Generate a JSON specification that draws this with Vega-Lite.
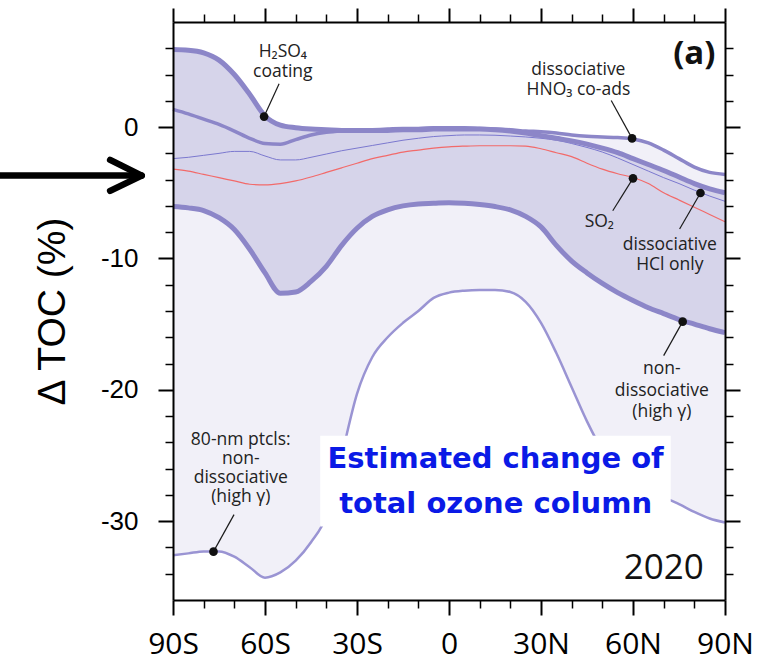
{
  "$schema": "https://vega.github.io/schema/vega-lite/v6.json",
  "width": 552,
  "height": 578,
  "autosize": "none",
  "padding": {"left": 173, "top": 22, "right": 41, "bottom": 62},
  "background": "white",
  "config": {"view": {"stroke": null}, "axis": {"grid": false}},
  "datasets": {
    "curves": [
      {"lat": -90, "U": 5.9, "A": 5.9, "G": 1.35, "C": -2.4, "D": -3.2, "E": -6.05, "F": -32.6},
      {"lat": -85, "U": 5.85, "A": 5.85, "G": 1.0, "C": -2.3, "D": -3.35, "E": -6.15, "F": -32.45},
      {"lat": -80, "U": 5.65, "A": 5.65, "G": 0.6, "C": -2.15, "D": -3.6, "E": -6.35, "F": -32.3},
      {"lat": -75, "U": 5.1, "A": 5.1, "G": 0.2, "C": -2.0, "D": -3.85, "E": -6.9, "F": -32.3},
      {"lat": -70, "U": 4.0, "A": 4.0, "G": -0.3, "C": -1.85, "D": -4.1, "E": -7.8, "F": -32.7},
      {"lat": -65, "U": 2.5, "A": 2.5, "G": -0.85, "C": -1.85, "D": -4.35, "E": -9.3, "F": -33.5},
      {"lat": -60, "U": 0.85, "A": 0.85, "G": -1.25, "C": -2.2, "D": -4.4, "E": -11.1, "F": -34.3},
      {"lat": -55, "U": 0.15, "A": 0.15, "G": -1.3, "C": -2.5, "D": -4.3, "E": -12.65, "F": -33.9},
      {"lat": -50, "U": -0.05, "A": -0.05, "G": -0.95, "C": -2.5, "D": -4.1, "E": -12.55, "F": -33.0},
      {"lat": -45, "U": -0.15, "A": -0.15, "G": -0.6, "C": -2.3, "D": -3.8, "E": -11.75, "F": -31.6},
      {"lat": -40, "U": -0.2, "A": -0.2, "G": -0.4, "C": -2.05, "D": -3.45, "E": -10.6, "F": -29.6},
      {"lat": -35, "U": -0.25, "A": -0.25, "G": -0.3, "C": -1.8, "D": -3.1, "E": -9.0, "F": -25.0},
      {"lat": -30, "U": -0.25, "A": -0.25, "G": -0.25, "C": -1.6, "D": -2.75, "E": -7.7, "F": -20.3},
      {"lat": -25, "U": -0.2, "A": -0.25, "G": -0.2, "C": -1.4, "D": -2.4, "E": -6.8, "F": -17.5},
      {"lat": -20, "U": -0.15, "A": -0.25, "G": -0.15, "C": -1.2, "D": -2.15, "E": -6.3, "F": -16.0},
      {"lat": -15, "U": -0.1, "A": -0.2, "G": -0.1, "C": -1.0, "D": -1.9, "E": -6.0, "F": -14.9},
      {"lat": -10, "U": -0.1, "A": -0.2, "G": -0.1, "C": -0.85, "D": -1.75, "E": -5.85, "F": -14.0},
      {"lat": -5, "U": -0.05, "A": -0.15, "G": -0.05, "C": -0.72, "D": -1.6, "E": -5.8, "F": -13.0},
      {"lat": 0, "U": -0.05, "A": -0.15, "G": -0.05, "C": -0.65, "D": -1.5, "E": -5.75, "F": -12.6},
      {"lat": 5, "U": -0.05, "A": -0.15, "G": -0.05, "C": -0.6, "D": -1.45, "E": -5.8, "F": -12.45},
      {"lat": 10, "U": -0.1, "A": -0.15, "G": -0.1, "C": -0.6, "D": -1.42, "E": -5.9, "F": -12.4},
      {"lat": 15, "U": -0.15, "A": -0.2, "G": -0.15, "C": -0.62, "D": -1.42, "E": -6.05, "F": -12.4},
      {"lat": 20, "U": -0.2, "A": -0.3, "G": -0.2, "C": -0.68, "D": -1.42, "E": -6.3, "F": -12.55},
      {"lat": 25, "U": -0.3, "A": -0.45, "G": -0.3, "C": -0.75, "D": -1.45, "E": -6.8, "F": -13.3},
      {"lat": 30, "U": -0.35, "A": -0.65, "G": -0.35, "C": -0.85, "D": -1.65, "E": -7.6, "F": -14.9},
      {"lat": 35, "U": -0.45, "A": -0.85, "G": -0.45, "C": -1.0, "D": -1.95, "E": -9.0, "F": -17.2},
      {"lat": 40, "U": -0.6, "A": -1.05, "G": -0.6, "C": -1.25, "D": -2.25, "E": -10.2, "F": -19.8},
      {"lat": 45, "U": -0.7, "A": -1.3, "G": -0.7, "C": -1.55, "D": -2.75, "E": -11.1, "F": -22.4},
      {"lat": 50, "U": -0.75, "A": -1.6, "G": -0.75, "C": -1.9, "D": -3.2, "E": -11.9, "F": -24.6},
      {"lat": 55, "U": -0.8, "A": -1.95, "G": -0.8, "C": -2.35, "D": -3.55, "E": -12.6, "F": -26.0},
      {"lat": 60, "U": -0.9, "A": -2.4, "G": -0.9, "C": -2.85, "D": -3.84, "E": -13.2, "F": -27.0},
      {"lat": 65, "U": -1.2, "A": -2.85, "G": -1.2, "C": -3.35, "D": -4.3, "E": -13.75, "F": -27.7},
      {"lat": 70, "U": -1.75, "A": -3.3, "G": -1.75, "C": -3.85, "D": -5.0, "E": -14.2, "F": -28.2},
      {"lat": 75, "U": -2.4, "A": -3.8, "G": -2.4, "C": -4.3, "D": -5.55, "E": -14.65, "F": -28.7},
      {"lat": 80, "U": -3.05, "A": -4.3, "G": -3.05, "C": -4.8, "D": -6.1, "E": -15.0, "F": -29.3},
      {"lat": 85, "U": -3.45, "A": -4.7, "G": -3.45, "C": -5.25, "D": -6.65, "E": -15.35, "F": -29.8},
      {"lat": 90, "U": -3.6, "A": -5.0, "G": -3.6, "C": -5.65, "D": -7.2, "E": -15.65, "F": -30.1}
    ],
    "leaders": [
      {"lat": -60.3, "v": 0.8, "lat2": -55.4, "v2": 3.3},
      {"lat": 59.7, "v": -0.86, "lat2": 52.9, "v2": 2.03},
      {"lat": 60.0, "v": -3.9, "lat2": 53.4, "v2": -6.37},
      {"lat": 82.0, "v": -5.02, "lat2": 75.2, "v2": -7.76},
      {"lat": 76.2, "v": -14.81, "lat2": 70.0, "v2": -17.4},
      {"lat": -76.8, "v": -32.32, "lat2": -70.1, "v2": -29.5}
    ],
    "labels": [
      {"t": "H₂SO₄", "lat": -54.2, "v": 5.35},
      {"t": "coating", "lat": -54.2, "v": 3.84},
      {"t": "dissociative", "lat": 42.2, "v": 3.99},
      {"t": "HNO₃ co-ads", "lat": 42.2, "v": 2.41},
      {"t": "SO₂", "lat": 49.0, "v": -7.63},
      {"t": "dissociative", "lat": 72.0, "v": -9.34},
      {"t": "HCl  only", "lat": 72.0, "v": -10.87},
      {"t": "non-", "lat": 69.4, "v": -18.83},
      {"t": "dissociative", "lat": 69.4, "v": -20.44},
      {"t": "(high γ)", "lat": 69.4, "v": -22.06},
      {"t": "80-nm ptcls:", "lat": -67.9, "v": -24.18},
      {"t": "non-", "lat": -67.9, "v": -25.63},
      {"t": "dissociative", "lat": -67.9, "v": -27.08},
      {"t": "(high γ)", "lat": -67.9, "v": -28.53}
    ],
    "box": [{"lat": -42, "lat2": 72.3, "v": -23.5, "v2": -30.4}],
    "boxtext": [
      {"t": "Estimated change of", "lat": 15.2, "v": -25.93},
      {"t": "total ozone column", "lat": 15.2, "v": -29.37}
    ],
    "arrow": [
      {"lat": -150, "v": -3.69, "lat2": -101, "v2": -3.69},
      {"lat": -100.2, "v": -3.69, "lat2": -110.5, "v2": -2.5},
      {"lat": -100.2, "v": -3.69, "lat2": -110.5, "v2": -4.85}
    ]
  },
  "resolve": {"axis": {"x": "independent", "y": "independent"}},
  "layer": [
    {
      "data": {"name": "curves"},
      "mark": {"type": "area", "interpolate": "monotone", "color": "#f1f0f8"},
      "encoding": {
        "x": {"field": "lat", "type": "quantitative", "scale": {"domain": [-90, 90], "nice": false, "zero": false},
          "axis": {"orient": "bottom", "values": [-90, -60, -30, 0, 30, 60, 90], "labelExpr": "datum.value == 0 ? '0' : (abs(datum.value) + (datum.value < 0 ? 'S' : 'N'))", "tickSize": 15, "tickWidth": 2, "tickColor": "black", "domainColor": "black", "domainWidth": 2, "labelFont": "Open Sans", "labelFontSize": 30, "labelColor": "black", "labelPadding": 14, "labelFlush": false, "labelOverlap": false, "labelBound": false, "title": null, "zindex": 1}},
        "y": {"field": "U", "type": "quantitative", "scale": {"domain": [-36, 8], "nice": false, "zero": false},
          "axis": {"orient": "left", "values": [0, -10, -20, -30], "labelExpr": "'' + datum.value", "tickSize": 15, "tickWidth": 2, "tickColor": "black", "domainColor": "black", "domainWidth": 2, "labelFont": "Liberation Sans", "labelFontSize": 26, "labelColor": "black", "labelPadding": 20, "labelOverlap": false, "labelBound": false, "title": "Δ TOC (%)", "titleFont": "Liberation Sans", "titleFontSize": 39, "titleFontWeight": "normal", "titleColor": "black", "titleX": -121, "titleY": 289, "titleAngle": 270, "titleAlign": "center", "titleBaseline": "middle", "zindex": 1}},
        "y2": {"field": "F"}
      }
    },
    {
      "data": {"name": "curves"},
      "mark": {"type": "area", "interpolate": "monotone", "color": "#d6d4ea"},
      "encoding": {
        "x": {"field": "lat", "type": "quantitative", "scale": {"domain": [-90, 90], "nice": false, "zero": false},
          "axis": {"orient": "bottom", "values": [-80, -70, -50, -40, -20, -10, 10, 20, 40, 50, 70, 80], "tickSize": 8, "tickWidth": 1.5, "tickColor": "black", "domain": false, "labels": false, "title": null, "zindex": 1}},
        "y": {"field": "A", "type": "quantitative", "scale": {"domain": [-36, 8], "nice": false, "zero": false},
          "axis": {"orient": "left", "values": [6, 4, 2, -2, -4, -6, -8, -12, -14, -16, -18, -22, -24, -26, -28, -32, -34], "tickSize": 8, "tickWidth": 1.5, "tickColor": "black", "domain": false, "labels": false, "title": null, "zindex": 1}},
        "y2": {"field": "E"}
      }
    },
    {
      "mark": {"type": "rule", "color": "black", "strokeWidth": 1},
      "encoding": {"y": {"datum": 0, "type": "quantitative", "scale": {"domain": [-36, 8], "nice": false, "zero": false}, "axis": null}}
    },
    {
      "data": {"name": "curves"},
      "mark": {"type": "line", "interpolate": "monotone", "color": "#9a94d3", "strokeWidth": 2.5},
      "encoding": {
        "x": {"field": "lat", "type": "quantitative", "scale": {"domain": [-90, 90], "nice": false, "zero": false},
          "axis": {"orient": "top", "values": [-90, -60, -30, 0, 30, 60, 90], "tickSize": 14, "tickWidth": 2, "tickColor": "black", "domainColor": "black", "domainWidth": 2, "labels": false, "title": null, "zindex": 1}},
        "y": {"field": "F", "type": "quantitative", "scale": {"domain": [-36, 8], "nice": false, "zero": false},
          "axis": {"orient": "right", "values": [0, -10, -20, -30], "tickSize": 15, "tickWidth": 2, "tickColor": "black", "domainColor": "black", "domainWidth": 2, "labels": false, "title": null, "zindex": 1}}
      }
    },
    {
      "data": {"name": "curves"},
      "mark": {"type": "line", "interpolate": "monotone", "color": "#8c86c8", "strokeWidth": 5},
      "encoding": {
        "x": {"field": "lat", "type": "quantitative", "scale": {"domain": [-90, 90], "nice": false, "zero": false},
          "axis": {"orient": "top", "values": [-80, -70, -50, -40, -20, -10, 10, 20, 40, 50, 70, 80], "tickSize": 8, "tickWidth": 1.5, "tickColor": "black", "domain": false, "labels": false, "title": null, "zindex": 1}},
        "y": {"field": "E", "type": "quantitative", "scale": {"domain": [-36, 8], "nice": false, "zero": false},
          "axis": {"orient": "right", "values": [6, 4, 2, -2, -4, -6, -8, -12, -14, -16, -18, -22, -24, -26, -28, -32, -34], "tickSize": 8, "tickWidth": 1.5, "tickColor": "black", "domain": false, "labels": false, "title": null, "zindex": 1}}
      }
    },
    {
      "data": {"name": "curves"},
      "mark": {"type": "line", "interpolate": "monotone", "color": "#7b78cf", "strokeWidth": 1},
      "encoding": {
        "x": {"field": "lat", "type": "quantitative", "axis": null},
        "y": {"field": "C", "type": "quantitative", "axis": null}
      }
    },
    {
      "data": {"name": "curves"},
      "mark": {"type": "line", "interpolate": "monotone", "color": "#f26a6a", "strokeWidth": 1.2},
      "encoding": {
        "x": {"field": "lat", "type": "quantitative", "axis": null},
        "y": {"field": "D", "type": "quantitative", "axis": null}
      }
    },
    {
      "data": {"name": "curves"},
      "mark": {"type": "line", "interpolate": "monotone", "color": "#8c86c8", "strokeWidth": 3.5},
      "encoding": {
        "x": {"field": "lat", "type": "quantitative", "axis": null},
        "y": {"field": "G", "type": "quantitative", "axis": null}
      }
    },
    {
      "data": {"name": "curves"},
      "mark": {"type": "line", "interpolate": "monotone", "color": "#8c86c8", "strokeWidth": 5},
      "encoding": {
        "x": {"field": "lat", "type": "quantitative", "axis": null},
        "y": {"field": "A", "type": "quantitative", "axis": null}
      }
    },
    {
      "data": {"name": "box"},
      "mark": {"type": "rect", "color": "white"},
      "encoding": {
        "x": {"field": "lat", "type": "quantitative", "axis": null},
        "x2": {"field": "lat2"},
        "y": {"field": "v", "type": "quantitative", "axis": null},
        "y2": {"field": "v2"}
      }
    },
    {
      "data": {"name": "boxtext"},
      "mark": {"type": "text", "font": "DejaVu Sans", "fontWeight": "bold", "fontSize": 29, "color": "#0a1ae6", "align": "center", "baseline": "alphabetic"},
      "encoding": {
        "x": {"field": "lat", "type": "quantitative", "axis": null},
        "y": {"field": "v", "type": "quantitative", "axis": null},
        "text": {"field": "t", "type": "nominal"}
      }
    },
    {
      "data": {"name": "leaders"},
      "mark": {"type": "rule", "color": "#1a1a1a", "strokeWidth": 1.2},
      "encoding": {
        "x": {"field": "lat", "type": "quantitative", "axis": null},
        "x2": {"field": "lat2"},
        "y": {"field": "v", "type": "quantitative", "axis": null},
        "y2": {"field": "v2"}
      }
    },
    {
      "data": {"name": "leaders"},
      "mark": {"type": "point", "filled": true, "color": "#111111", "size": 75, "opacity": 1},
      "encoding": {
        "x": {"field": "lat", "type": "quantitative", "axis": null},
        "y": {"field": "v", "type": "quantitative", "axis": null}
      }
    },
    {
      "data": {"name": "labels"},
      "mark": {"type": "text", "font": "Open Sans", "fontSize": 17.5, "color": "#222222", "align": "center", "baseline": "alphabetic"},
      "encoding": {
        "x": {"field": "lat", "type": "quantitative", "axis": null},
        "y": {"field": "v", "type": "quantitative", "axis": null},
        "text": {"field": "t", "type": "nominal"}
      }
    },
    {
      "data": {"values": [{"t": "(a)", "lat": 80.0, "v": 4.83}]},
      "mark": {"type": "text", "font": "Open Sans", "fontWeight": "bold", "fontSize": 33, "color": "#111111", "align": "center", "baseline": "alphabetic"},
      "encoding": {
        "x": {"field": "lat", "type": "quantitative", "axis": null},
        "y": {"field": "v", "type": "quantitative", "axis": null},
        "text": {"field": "t", "type": "nominal"}
      }
    },
    {
      "data": {"values": [{"t": "2020", "lat": 70.0, "v": -34.4}]},
      "mark": {"type": "text", "font": "Open Sans", "fontSize": 35, "color": "#111111", "align": "center", "baseline": "alphabetic"},
      "encoding": {
        "x": {"field": "lat", "type": "quantitative", "axis": null},
        "y": {"field": "v", "type": "quantitative", "axis": null},
        "text": {"field": "t", "type": "nominal"}
      }
    },
    {
      "data": {"name": "arrow"},
      "mark": {"type": "rule", "color": "black", "strokeWidth": 6.5, "strokeCap": "round"},
      "encoding": {
        "x": {"field": "lat", "type": "quantitative", "axis": null},
        "x2": {"field": "lat2"},
        "y": {"field": "v", "type": "quantitative", "axis": null},
        "y2": {"field": "v2"}
      }
    }
  ]
}
